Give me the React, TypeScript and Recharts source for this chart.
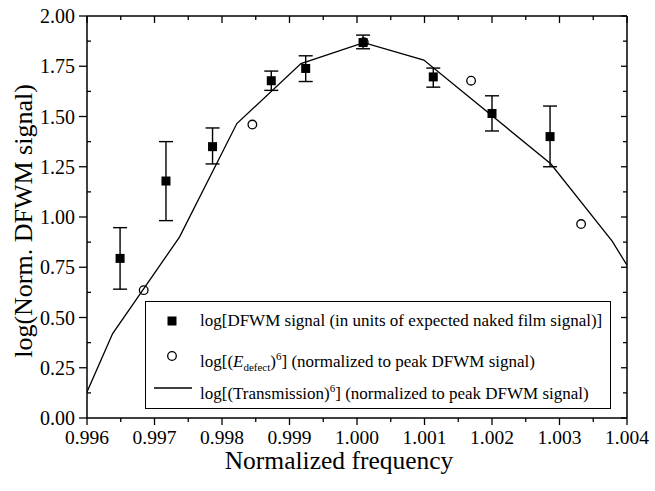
import React from 'react';
import { ComposedChart, Line, Scatter, XAxis, YAxis, ErrorBar, Legend } from 'recharts';

// ---- data ----
const dfwmX = [0.99649, 0.99717, 0.99786, 0.99873, 0.99924, 1.00009, 1.00113, 1.002, 1.00286];
const dfwmY = [0.794, 1.179, 1.35, 1.678, 1.739, 1.868, 1.697, 1.515, 1.4];
const dfwmLow = [0.641, 0.982, 1.264, 1.63, 1.674, 1.837, 1.646, 1.428, 1.25];
const dfwmHigh = [0.947, 1.375, 1.443, 1.726, 1.802, 1.905, 1.741, 1.603, 1.552];

const defectX = [0.99684, 0.99845, 1.0001, 1.00169, 1.00332];
const defectY = [0.636, 1.46, 1.87, 1.678, 0.965];

const transX = [0.996, 0.99638, 0.99737, 0.99822, 0.99917, 1.0001, 1.00099, 1.00287, 1.00378, 1.004];
const transY = [0.13, 0.42, 0.9, 1.465, 1.763, 1.867, 1.781, 1.265, 0.88, 0.76];

const xMajorTicks = [0.996, 0.997, 0.998, 0.999, 1.0, 1.001, 1.002, 1.003, 1.004];
const xTickLabels = ['0.996', '0.997', '0.998', '0.999', '1.000', '1.001', '1.002', '1.003', '1.004'];
const xMinorTicks = [0.9965, 0.9975, 0.9985, 0.9995, 1.0005, 1.0015, 1.0025, 1.0035];

const yMajorTicks = [0, 0.25, 0.5, 0.75, 1.0, 1.25, 1.5, 1.75, 2.0];
const yTickLabels = ['0.00', '0.25', '0.50', '0.75', '1.00', '1.25', '1.50', '1.75', '2.00'];
const yMinorTicks = [0.125, 0.375, 0.625, 0.875, 1.125, 1.375, 1.625, 1.875];

const xTitle = 'Normalized frequency';
const yTitle = 'log(Norm. DFWM signal)';

// ---- tables built for the library ----
const dfwmData = dfwmX.map((x, i) => ({
  x,
  y: dfwmY[i],
  err: [dfwmY[i] - dfwmLow[i], dfwmHigh[i] - dfwmY[i]],
}));
const defectData = defectX.map((x, i) => ({ x, y: defectY[i] }));
const transData = transX.map((x, i) => ({ x, y: transY[i] }));

const FONT = '"Liberation Serif", "Times New Roman", serif';
const xAll = [...xMajorTicks, ...xMinorTicks].sort((a, b) => a - b);
const yAll = [...yMajorTicks, ...yMinorTicks].sort((a, b) => a - b);
const idxOf = (arr: number[], v: number) => arr.findIndex((m) => Math.abs(m - v) < 1e-9);

const BottomTick = (props: any) => {
  const { x, y, payload } = props;
  const i = idxOf(xMajorTicks, payload.value);
  const major = i >= 0;
  return (
    <g>
      <line x1={x} x2={x} y1={y} y2={y + (major ? 7 : 4)} stroke="#000" strokeWidth={1.3} />
      {major && (
        <text x={x} y={y + 26} textAnchor="middle" fontFamily={FONT} fontSize={19.5} fill="#000">
          {xTickLabels[i]}
        </text>
      )}
    </g>
  );
};

const TopTick = (props: any) => {
  const { x, y, payload } = props;
  const major = idxOf(xMajorTicks, payload.value) >= 0;
  return <line x1={x} x2={x} y1={y} y2={y + (major ? 7 : 4)} stroke="#000" strokeWidth={1.3} />;
};

const LeftTick = (props: any) => {
  const { x, y, payload } = props;
  const i = idxOf(yMajorTicks, payload.value);
  const major = i >= 0;
  return (
    <g>
      {major ? (
        <line x1={x - 8} x2={x} y1={y} y2={y} stroke="#000" strokeWidth={1.3} />
      ) : (
        <line x1={x} x2={x + 4} y1={y} y2={y} stroke="#000" strokeWidth={1.3} />
      )}
      {major && (
        <text x={x - 12} y={y + 7} textAnchor="end" fontFamily={FONT} fontSize={20} fill="#000">
          {yTickLabels[i]}
        </text>
      )}
    </g>
  );
};

const RightTick = (props: any) => {
  const { x, y, payload } = props;
  const major = idxOf(yMajorTicks, payload.value) >= 0;
  return <line x1={x - (major ? 6 : 4)} x2={x} y1={y} y2={y} stroke="#000" strokeWidth={1.3} />;
};

const SquareShape = (props: any) => {
  const { cx, cy } = props;
  return <rect x={cx - 4.5} y={cy - 4.5} width={9} height={9} fill="#000" />;
};

const CircleShape = (props: any) => {
  const { cx, cy } = props;
  return <circle cx={cx} cy={cy} r={4.3} fill="none" stroke="#000" strokeWidth={1.3} />;
};

const XTitle = () => (
  <text x={339} y={469} textAnchor="middle" fontFamily={FONT} fontSize={25.5} fill="#000">
    {xTitle}
  </text>
);

const YTitle = () => (
  <text
    x={-221}
    y={32}
    transform="rotate(-90)"
    textAnchor="middle"
    fontFamily={FONT}
    fontSize={26}
    fill="#000"
  >
    {yTitle}
  </text>
);

const rowStyle = (top: number): React.CSSProperties => ({
  position: 'absolute',
  left: 54,
  top: top - 11,
  height: 22,
  lineHeight: '22px',
  whiteSpace: 'nowrap',
  fontFamily: FONT,
  fontSize: 17,
  color: '#000',
});

const LegendContent = () => (
  <div
    style={{
      position: 'relative',
      width: 466,
      height: 108,
      boxSizing: 'border-box',
      border: '1.5px solid #000',
      background: '#fff',
    }}
  >
    <svg width={466} height={108} style={{ position: 'absolute', left: -1.5, top: -1.5 }}>
      <rect x={27 - 4.5} y={20 - 4.5} width={9} height={9} fill="#000" />
      <circle cx={27} cy={55} r={4.3} fill="none" stroke="#000" strokeWidth={1.3} />
      <line x1={9} x2={47} y1={87} y2={87} stroke="#000" strokeWidth={1.3} />
    </svg>
    <div style={rowStyle(19)}>log[DFWM signal (in units of expected naked film signal)]</div>
    <div style={rowStyle(54)}>
      log[(<i>E</i>
      <span style={{ fontSize: 11, verticalAlign: '-4px' }}>defect</span>)
      <span style={{ fontSize: 11, verticalAlign: '7px' }}>6</span>] (normalized to peak DFWM signal)
    </div>
    <div style={rowStyle(86)}>
      log[(Transmission)<span style={{ fontSize: 11, verticalAlign: '7px' }}>6</span>] (normalized to peak
      DFWM signal)
    </div>
  </div>
);

export default function App() {
  return (
    <div style={{ position: 'absolute', left: 0, top: 0 }}>
      <ComposedChart width={655} height={491} margin={{ top: 15, right: 27, bottom: 72, left: 86 }}>
        <XAxis
          xAxisId="b"
          dataKey="x"
          type="number"
          domain={[0.996, 1.004]}
          allowDataOverflow
          ticks={xAll}
          interval={0}
          height={1}
          tickSize={0}
          tickMargin={0}
          tickLine={false}
          tick={<BottomTick />}
          axisLine={{ stroke: '#000', strokeWidth: 1.5 }}
          label={XTitle}
        />
        <XAxis
          xAxisId="t"
          orientation="top"
          dataKey="x"
          type="number"
          domain={[0.996, 1.004]}
          allowDataOverflow
          ticks={xAll}
          interval={0}
          height={1}
          tickSize={0}
          tickMargin={0}
          tickLine={false}
          tick={<TopTick />}
          axisLine={{ stroke: '#000', strokeWidth: 1.5 }}
        />
        <YAxis
          yAxisId="l"
          dataKey="y"
          type="number"
          domain={[0, 2]}
          allowDataOverflow
          ticks={yAll}
          interval={0}
          width={1}
          tickSize={0}
          tickMargin={0}
          tickLine={false}
          tick={<LeftTick />}
          axisLine={{ stroke: '#000', strokeWidth: 1.5 }}
          label={YTitle}
        />
        <YAxis
          yAxisId="r"
          orientation="right"
          dataKey="y"
          type="number"
          domain={[0, 2]}
          allowDataOverflow
          ticks={yAll}
          interval={0}
          width={1}
          tickSize={0}
          tickMargin={0}
          tickLine={false}
          tick={<RightTick />}
          axisLine={{ stroke: '#000', strokeWidth: 1.5 }}
        />
        <Line
          data={transData}
          xAxisId="b"
          yAxisId="l"
          dataKey="y"
          name="transmission"
          type="linear"
          stroke="#000"
          strokeWidth={1.3}
          dot={false}
          isAnimationActive={false}
        />
        <Scatter
          data={defectData}
          xAxisId="b"
          yAxisId="l"
          dataKey="y"
          name="defect"
          shape={CircleShape}
          isAnimationActive={false}
        />
        <Scatter
          data={dfwmData}
          xAxisId="b"
          yAxisId="l"
          dataKey="y"
          name="dfwm"
          shape={SquareShape}
          isAnimationActive={false}
        >
          <ErrorBar dataKey="err" direction="y" width={7} stroke="#000" strokeWidth={1.4} />
        </Scatter>
        <Legend
          layout="horizontal"
          verticalAlign="middle"
          align="center"
          content={LegendContent}
          wrapperStyle={{ left: 145, top: 301, width: 466, height: 108 }}
        />
      </ComposedChart>
    </div>
  );
}
